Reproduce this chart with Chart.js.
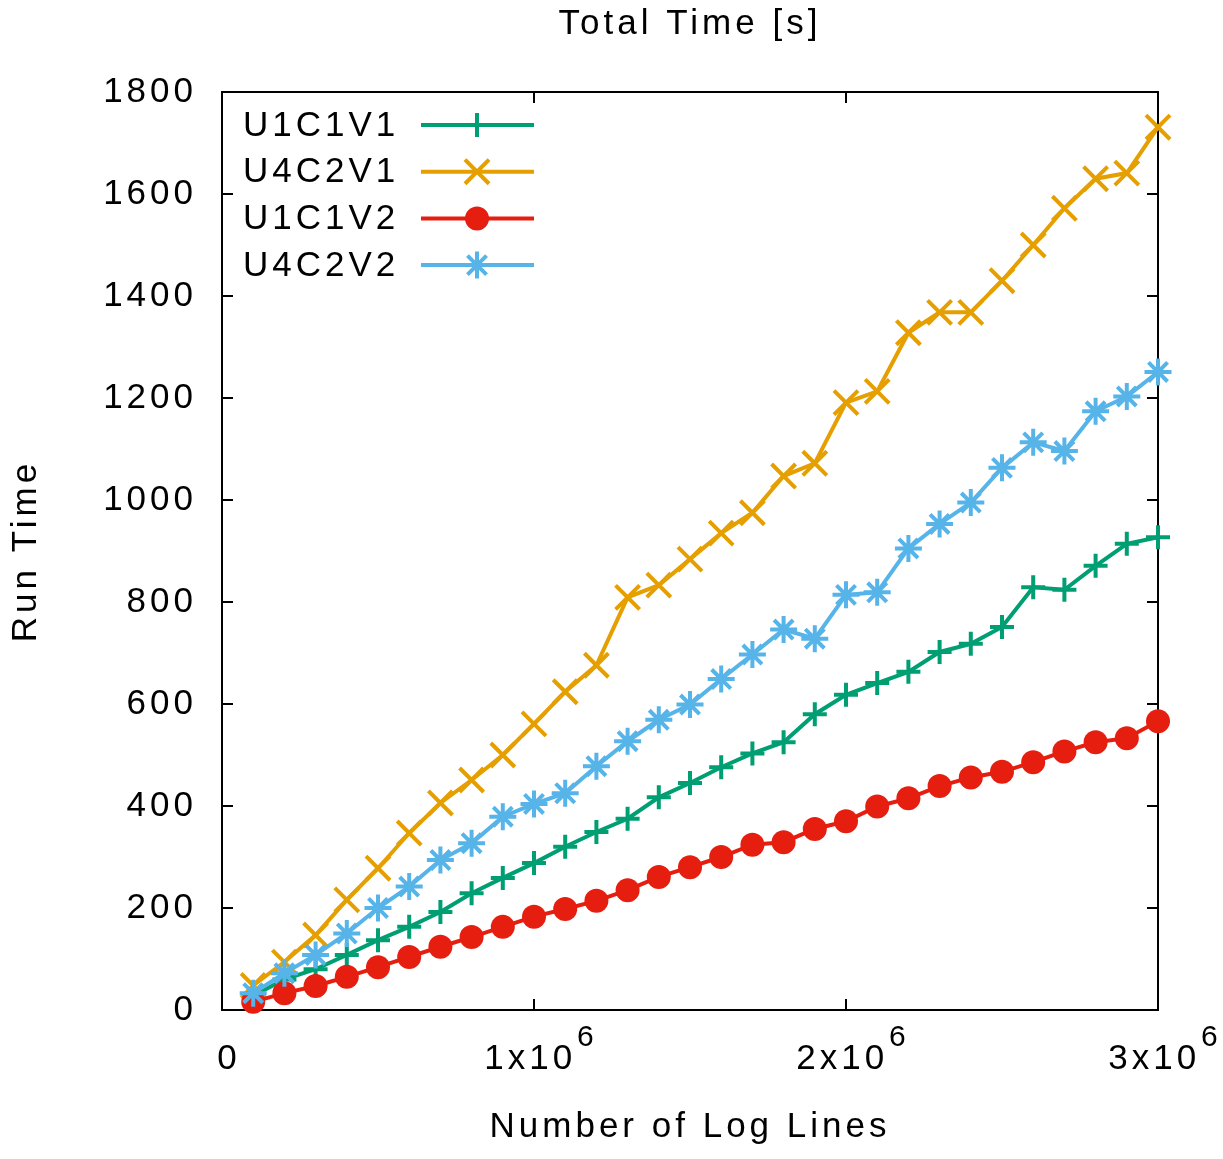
<!DOCTYPE html>
<html><head><meta charset="utf-8">
<script src="https://cdn.jsdelivr.net/npm/chart.js@4"></script>
<style>html,body{margin:0;padding:0;background:#fff;}canvas{display:block;}</style>
</head><body>
<canvas id="c" width="1223" height="1159" style="width:1223px;height:1159px"></canvas>
<script>
const lineCounts = [100000, 200000, 300000, 400000, 500000, 600000, 700000, 800000, 900000, 1000000,
  1100000, 1200000, 1300000, 1400000, 1500000, 1600000, 1700000, 1800000, 1900000, 2000000,
  2100000, 2200000, 2300000, 2400000, 2500000, 2600000, 2700000, 2800000, 2900000, 3000000];
const seriesLabels = ['U1C1V1', 'U4C2V1', 'U1C1V2', 'U4C2V2'];
const u1c1v1 = [28, 60, 80, 108, 137, 163, 192, 229, 259, 288, 320, 349, 375, 417, 445, 476, 503, 525, 580, 618,
  641, 663, 702, 718, 751, 829, 824, 871, 914, 927];
const u4c2v1 = [48, 94, 147, 216, 278, 347, 406, 451, 500, 561, 624, 676, 809, 833, 884, 935, 975, 1047, 1072, 1191,
  1213, 1328, 1368, 1368, 1430, 1500, 1572, 1630, 1641, 1731];
const u1c1v2 = [16, 33, 47, 65, 84, 104, 124, 143, 163, 183, 198, 214, 235, 261, 280, 300, 324, 329, 355, 370,
  399, 415, 439, 456, 467, 486, 507, 525, 533, 566];
const u4c2v2 = [33, 72, 108, 150, 200, 242, 294, 327, 379, 404, 425, 478, 527, 569, 599, 649, 697, 746, 728, 814,
  819, 905, 953, 995, 1063, 1113, 1096, 1174, 1203, 1251];
const yTickStep = 200;
const yMax = 1800;
const xTickValues = [0, 1000000, 2000000, 3000000];
const xTickMantissa = ['0', '1x10', '2x10', '3x10'];
const xTickExponent = ['', '6', '6', '6'];
const titleText = 'Total Time [s]';
const yTitle = 'Run Time';
const xTitle = 'Number of Log Lines';

const FONT = '"Liberation Sans", Arial, Helvetica, sans-serif';
const FS = 35;
const SP = 4;
const colors = ['#009e73', '#e69f00', '#e51e10', '#56b4e9'];
const pointStyles = ['cross', 'crossRot', 'circle', 'star'];
const pointRadii = [12, 17, 12, 13.5];
const seriesData = [u1c1v1, u4c2v1, u1c1v2, u4c2v2];

Chart.defaults.font.family = FONT;
Chart.defaults.color = '#000';

function setSpacing(chart) { try { chart.ctx.letterSpacing = SP + 'px'; } catch (e) {} }

const gnuplotLook = {
  id: 'gnuplotLook',
  beforeUpdate(chart) { setSpacing(chart); },
  beforeLayout(chart) { setSpacing(chart); },
  beforeDraw(chart) { setSpacing(chart); },
  beforeDatasetsDraw(chart) {
    const ctx = chart.ctx, a = chart.chartArea, x = chart.scales.x, y = chart.scales.y;
    ctx.save();
    ctx.strokeStyle = '#000';
    ctx.lineWidth = 2;
    ctx.beginPath();
    ctx.rect(a.left, a.top, a.right - a.left, a.bottom - a.top);
    const tl = 11;
    y.ticks.forEach(t => {
      const py = y.getPixelForValue(t.value);
      if (py <= a.top + 1 || py >= a.bottom - 1) return;
      ctx.moveTo(a.left, py); ctx.lineTo(a.left + tl, py);
      ctx.moveTo(a.right, py); ctx.lineTo(a.right - tl, py);
    });
    xTickValues.forEach(v => {
      const px = x.getPixelForValue(v);
      if (px <= a.left + 1 || px >= a.right - 1) return;
      ctx.moveTo(px, a.bottom); ctx.lineTo(px, a.bottom - tl);
      ctx.moveTo(px, a.top); ctx.lineTo(px, a.top + tl);
    });
    ctx.stroke();
    ctx.restore();
  },
  afterDraw(chart) {
    const ctx = chart.ctx, a = chart.chartArea, x = chart.scales.x;
    ctx.save();
    ctx.letterSpacing = SP + 'px';
    ctx.fillStyle = '#000';
    ctx.textBaseline = 'alphabetic';
    ctx.textAlign = 'left';
    const supFont = '30px ' + FONT;
    const mainFont = FS + 'px ' + FONT;
    xTickValues.forEach((v, i) => {
      const px = x.getPixelForValue(v);
      ctx.font = mainFont;
      const mw = ctx.measureText(xTickMantissa[i]).width;
      let total = mw - SP;
      if (xTickExponent[i]) {
        ctx.font = supFont;
        const sw = ctx.measureText(xTickExponent[i]).width - SP;
        total = mw + 1 + sw;
      }
      const start = px + 5 - total / 2;
      ctx.font = mainFont;
      ctx.fillText(xTickMantissa[i], start, a.bottom + 59);
      if (xTickExponent[i]) {
        ctx.font = supFont;
        ctx.fillText(xTickExponent[i], start + mw + 1, a.bottom + 36);
      }
    });
    // key inside the plot, top-left
    ctx.font = mainFont;
    ctx.textBaseline = 'middle';
    chart.data.datasets.forEach((ds, i) => {
      const ry = a.top + 33 + i * 46.7;
      ctx.fillStyle = '#000';
      ctx.fillText(ds.label, a.left + 21, ry + 1);
      ctx.strokeStyle = ds.borderColor;
      ctx.lineWidth = ds.borderWidth;
      ctx.beginPath();
      ctx.moveTo(a.left + 199, ry);
      ctx.lineTo(a.left + 312, ry);
      ctx.stroke();
      ctx.fillStyle = ds.pointBackgroundColor;
      ctx.lineWidth = ds.pointBorderWidth;
      Chart.helpers.drawPoint(ctx, {
        pointStyle: ds.pointStyle, radius: ds.pointRadius, rotation: 0,
        borderWidth: ds.pointBorderWidth
      }, a.left + 255, ry);
    });
    ctx.restore();
  }
};

const datasets = seriesLabels.map((label, i) => ({
  label: label,
  data: seriesData[i],
  borderColor: colors[i],
  backgroundColor: colors[i],
  pointBackgroundColor: colors[i],
  pointBorderColor: colors[i],
  borderWidth: 4,
  pointStyle: pointStyles[i],
  pointRadius: pointRadii[i],
  pointBorderWidth: pointStyles[i] === 'circle' ? 0 : 4,
  tension: 0,
  fill: false,
  clip: false,
  order: 4 - i
}));

new Chart(document.getElementById('c'), {
  type: 'line',
  data: { labels: lineCounts, datasets: datasets },
  plugins: [gnuplotLook],
  options: {
    responsive: false,
    animation: false,
    devicePixelRatio: 1,
    layout: { padding: { left: 0, right: 65, top: 0, bottom: 0 } },
    plugins: {
      legend: { display: false },
      tooltip: { enabled: false },
      title: {
        display: true, text: titleText, fullSize: false, color: '#000',
        font: { size: FS, weight: 'normal', family: FONT, lineHeight: 1.2 },
        padding: { top: 3, bottom: 47 }
      }
    },
    scales: {
      x: {
        type: 'linear', min: 0, max: 3000000,
        grid: { display: false, drawTicks: false },
        border: { display: false },
        ticks: { display: false, stepSize: 1000000 },
        title: {
          display: true, text: xTitle, color: '#000',
          font: { size: FS, family: FONT, lineHeight: 1.2 },
          padding: { top: 0, bottom: 11 }
        },
        afterFit(scale) { scale.height = 149; }
      },
      y: {
        type: 'linear', min: 0, max: yMax,
        grid: { display: false, drawTicks: false },
        border: { display: false },
        ticks: {
          stepSize: yTickStep, padding: 25, color: '#000', font: { size: FS, family: FONT },
          callback: (v) => String(v)
        },
        title: {
          display: true, text: yTitle, color: '#000',
          font: { size: FS, family: FONT, lineHeight: 1.2 },
          padding: { top: 5, bottom: 0 }
        },
        afterFit(scale) { scale.width = 222; }
      }
    }
  }
});
</script>
</body></html>
